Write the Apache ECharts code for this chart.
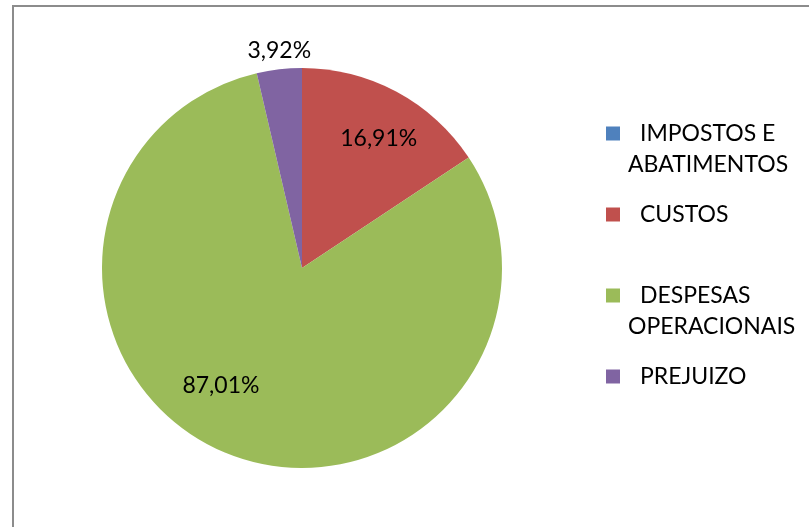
<!DOCTYPE html>
<html>
<head>
<meta charset="utf-8">
<script src="https://cdn.jsdelivr.net/npm/echarts@6/dist/echarts.min.js"></script>
<style>
  body { margin: 0; background: #fff; }
  #chart {
    position: absolute;
    left: 12px;
    top: 5px;
    width: 797px;
    height: 522px;
    border-left: 2px solid #8c8c8c;
    border-top: 2px solid #8c8c8c;
  }
</style>
</head>
<body>
<div id="chart"></div>
<script>
const categories = ["IMPOSTOS E\nABATIMENTOS", "CUSTOS", "DESPESAS\nOPERACIONAIS", "PREJUIZO"];
const values = [0, 16.91, 87.01, 3.92];
const colors = ["#4F81BD", "#C0504D", "#9BBB59", "#8064A2"];
// nudges so labels sit where excel put them
const labelOffsets = [[0, 0], [28, -39], [-43, 22], [-11, -115]];

const chart = echarts.init(document.getElementById("chart"));

const fmt = (v) => v.toFixed(2).replace(".", ",") + "%";

chart.setOption({
  animation: false,
  color: colors,
  legend: {
    orient: "vertical",
    left: 587,
    top: 75,
    icon: "rect",
    itemWidth: 14,
    itemHeight: 14,
    itemGap: 19,
    selectedMode: false,
    formatter: (name) => {
      const lines = name.split("\n");
      if (lines.length > 1) {
        return "\n{f|" + lines[0] + "}\n" + lines.slice(1).join("\n");
      }
      return "{f|" + name + "}";
    },
    textStyle: {
      fontFamily: "Lato",
      fontSize: 23,
      color: "#000",
      lineHeight: 31,
      padding: [0, 0, 0, 3],
      rich: {
        f: { fontFamily: "Lato", fontSize: 23, lineHeight: 31, padding: [0, 0, 0, 12] },
      },
    },
  },
  series: [
    {
      type: "pie",
      center: [288, 261],
      radius: 200,
      startAngle: 90,
      clockwise: true,
      avoidLabelOverlap: false,
      labelLine: { show: false },
      emphasis: { disabled: true },
      label: {
        position: "inside",
        fontFamily: "Lato",
        fontSize: 23,
        color: "#000",
        formatter: (p) => fmt(p.value),
      },
      data: categories.map((name, i) => ({
        name: name,
        value: values[i],
        label: { show: values[i] > 0, offset: labelOffsets[i] },
      })),
    },
  ],
});
</script>
</body>
</html>
